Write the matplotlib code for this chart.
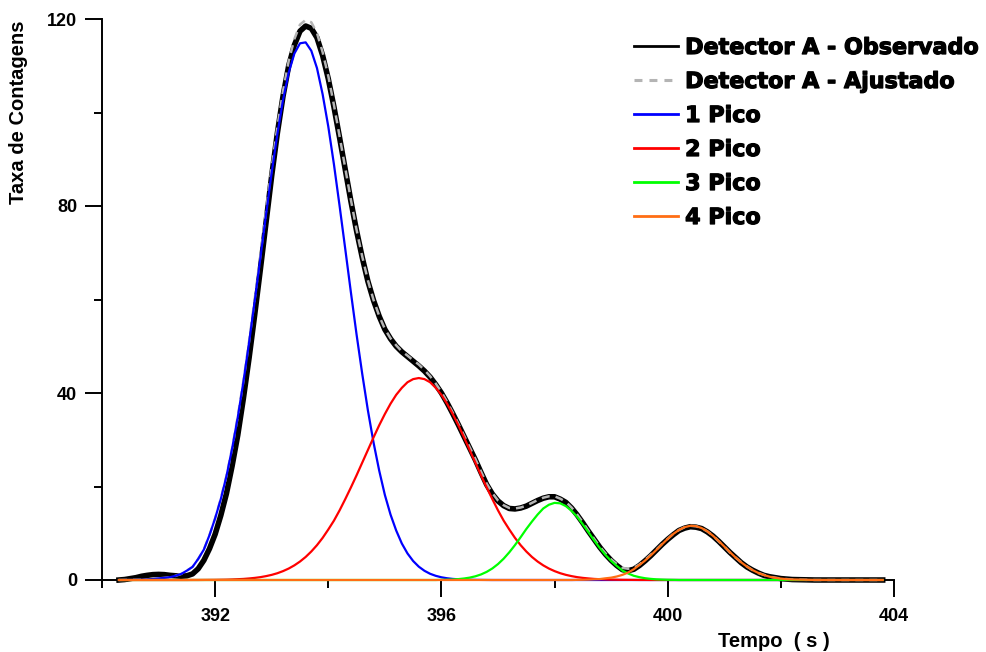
import matplotlib
matplotlib.use("Agg")
import matplotlib.pyplot as plt
from matplotlib.lines import Line2D
import matplotlib.patheffects as pe

# ---- data (time in s, counts) ----
tempo = [390.3, 390.4, 390.5, 390.6, 390.7, 390.8, 390.9, 391.0, 391.1, 391.2,
         391.3, 391.4, 391.5, 391.6, 391.7, 391.8, 391.9, 392.0, 392.1, 392.2,
         392.3, 392.4, 392.5, 392.6, 392.7, 392.8, 392.9, 393.0, 393.1, 393.2,
         393.3, 393.4, 393.5, 393.6, 393.7, 393.8, 393.9, 394.0, 394.1, 394.2,
         394.3, 394.4, 394.5, 394.6, 394.7, 394.8, 394.9, 395.0, 395.1, 395.2,
         395.3, 395.4, 395.5, 395.6, 395.7, 395.8, 395.9, 396.0, 396.1, 396.2,
         396.3, 396.4, 396.5, 396.6, 396.7, 396.8, 396.9, 397.0, 397.1, 397.2,
         397.3, 397.4, 397.5, 397.6, 397.7, 397.8, 397.9, 398.0, 398.1, 398.2,
         398.3, 398.4, 398.5, 398.6, 398.7, 398.8, 398.9, 399.0, 399.1, 399.2,
         399.3, 399.4, 399.5, 399.6, 399.7, 399.8, 399.9, 400.0, 400.1, 400.2,
         400.3, 400.4, 400.5, 400.6, 400.7, 400.8, 400.9, 401.0, 401.1, 401.2,
         401.3, 401.4, 401.5, 401.6, 401.7, 401.8, 401.9, 402.0, 402.1, 402.2,
         402.6, 403.0, 403.8]

observado = [0.0, 0.1, 0.3, 0.5, 0.8, 1.0, 1.15, 1.2, 1.15, 1.0,
             0.9, 0.8, 0.9, 1.3, 2.4, 4.2, 6.7, 9.8, 13.8, 18.5,
             24.4, 31.0, 38.9, 47.5, 56.8, 66.5, 76.5, 86.5, 95.6, 103.5,
             110.0, 114.4, 117.4, 118.5, 118.0, 116.0, 112.2, 107.2, 101.2, 94.6,
             87.8, 81.0, 74.7, 69.0, 63.9, 59.8, 56.4, 53.6, 51.6, 50.0,
             48.8, 47.8, 46.8, 45.8, 44.7, 43.4, 41.8, 40.0, 37.9, 35.6,
             33.2, 30.7, 28.2, 25.7, 23.0, 20.4, 18.4, 16.9, 15.9, 15.3,
             15.2, 15.4, 15.8, 16.4, 17.0, 17.5, 17.8, 17.8, 17.3, 16.6,
             15.4, 13.9, 12.2, 10.4, 8.7, 7.0, 5.5, 4.2, 3.1, 2.2,
             2.0, 2.3, 3.1, 4.1, 5.2, 6.4, 7.6, 8.7, 9.7, 10.6,
             11.1, 11.4, 11.3, 11.0, 10.3, 9.4, 8.3, 7.1, 5.9, 4.8,
             3.7, 2.8, 2.1, 1.5, 1.0, 0.7, 0.5, 0.3, 0.2, 0.1,
             0.0, 0.0, 0.0]

ajustado = [0.0, 0.02, 0.03, 0.05, 0.08, 0.13, 0.21, 0.34, 0.45, 0.6,
            0.9, 1.3, 2.0, 2.8, 4.5, 6.5, 9.6, 13.2, 17.4, 22.3,
            28.2, 35.0, 42.6, 51.1, 60.2, 69.5, 79.0, 88.3, 96.9, 104.6,
            111.0, 115.7, 118.8, 119.8, 119.3, 117.0, 112.9, 107.8, 101.6, 94.9,
            88.1, 81.3, 74.9, 69.2, 64.1, 59.9, 56.5, 53.7, 51.7, 50.2,
            48.9, 48.0, 47.0, 46.1, 44.9, 43.6, 42.0, 40.2, 38.1, 35.8,
            33.4, 30.9, 28.4, 25.9, 23.2, 20.6, 18.6, 17.0, 16.0, 15.4,
            15.3, 15.5, 15.9, 16.5, 17.1, 17.6, 17.9, 17.9, 17.4, 16.7,
            15.5, 14.0, 12.3, 10.5, 8.8, 7.1, 5.7, 4.4, 3.4, 2.6,
            2.4, 2.6, 3.3, 4.3, 5.4, 6.5, 7.7, 8.8, 9.9, 10.7,
            11.3, 11.6, 11.5, 11.1, 10.4, 9.5, 8.3, 7.2, 5.9, 4.8,
            3.8, 2.9, 2.1, 1.5, 1.1, 0.7, 0.5, 0.3, 0.2, 0.1,
            0.0, 0.0, 0.0]

pico_1 = [0.0, 0.02, 0.03, 0.05, 0.08, 0.13, 0.21, 0.34, 0.45, 0.6,
          0.9, 1.3, 2.0, 2.8, 4.5, 6.5, 9.6, 13.2, 17.3, 22.2,
          28.1, 34.8, 42.4, 50.8, 59.7, 68.9, 78.2, 87.2, 95.4, 102.7,
          108.5, 112.6, 114.8, 115.0, 113.2, 109.5, 103.9, 97.0, 88.9, 80.0,
          70.8, 61.5, 52.5, 44.1, 36.3, 29.4, 23.4, 18.2, 14.0, 10.6,
          7.81, 5.68, 4.06, 2.85, 1.97, 1.33, 0.89, 0.58, 0.37, 0.23,
          0.15, 0.09, 0.05, 0.03, 0.02, 0.01, 0.0, 0.0, 0.0, 0.0,
          0.0, 0.0, 0.0, 0.0, 0.0, 0.0, 0.0, 0.0, 0.0, 0.0,
          0.0, 0.0, 0.0, 0.0, 0.0, 0.0, 0.0, 0.0, 0.0, 0.0,
          0.0, 0.0, 0.0, 0.0, 0.0, 0.0, 0.0, 0.0, 0.0, 0.0,
          0.0, 0.0, 0.0, 0.0, 0.0, 0.0, 0.0, 0.0, 0.0, 0.0,
          0.0, 0.0, 0.0, 0.0, 0.0, 0.0, 0.0, 0.0, 0.0, 0.0,
          0.0, 0.0, 0.0]

pico_2 = [0.0, 0.0, 0.0, 0.0, 0.0, 0.0, 0.0, 0.0, 0.0, 0.0,
          0.0, 0.0, 0.0, 0.01, 0.01, 0.02, 0.03, 0.04, 0.06, 0.08,
          0.12, 0.17, 0.23, 0.33, 0.45, 0.61, 0.83, 1.10, 1.45, 1.90,
          2.45, 3.13, 3.95, 4.93, 6.10, 7.45, 9.01, 10.8, 12.7, 14.9,
          17.3, 19.8, 22.4, 25.1, 27.8, 30.5, 33.1, 35.5, 37.7, 39.6,
          41.1, 42.3, 42.97, 43.2, 42.97, 42.3, 41.1, 39.6, 37.7, 35.5,
          33.1, 30.5, 27.8, 25.1, 22.4, 19.8, 17.3, 14.9, 12.7, 10.8,
          9.01, 7.45, 6.10, 4.93, 3.95, 3.13, 2.45, 1.90, 1.45, 1.10,
          0.83, 0.61, 0.45, 0.33, 0.23, 0.17, 0.12, 0.08, 0.06, 0.04,
          0.03, 0.02, 0.01, 0.01, 0.0, 0.0, 0.0, 0.0, 0.0, 0.0,
          0.0, 0.0, 0.0, 0.0, 0.0, 0.0, 0.0, 0.0, 0.0, 0.0,
          0.0, 0.0, 0.0, 0.0, 0.0, 0.0, 0.0, 0.0, 0.0, 0.0,
          0.0, 0.0, 0.0]

pico_3 = [0.0, 0.0, 0.0, 0.0, 0.0, 0.0, 0.0, 0.0, 0.0, 0.0,
          0.0, 0.0, 0.0, 0.0, 0.0, 0.0, 0.0, 0.0, 0.0, 0.0,
          0.0, 0.0, 0.0, 0.0, 0.0, 0.0, 0.0, 0.0, 0.0, 0.0,
          0.0, 0.0, 0.0, 0.0, 0.0, 0.0, 0.0, 0.0, 0.0, 0.0,
          0.0, 0.0, 0.0, 0.0, 0.0, 0.0, 0.0, 0.0, 0.0, 0.0,
          0.0, 0.0, 0.0, 0.0, 0.0, 0.0, 0.0, 0.04, 0.07, 0.11,
          0.19, 0.32, 0.51, 0.79, 1.19, 1.74, 2.47, 3.41, 4.56, 5.93,
          7.47, 9.15, 10.9, 12.5, 14.0, 15.3, 16.1, 16.5, 16.4, 15.8,
          14.8, 13.5, 11.9, 10.2, 8.47, 6.84, 5.36, 4.08, 3.01, 2.0,
          1.4, 0.9, 0.6, 0.38, 0.24, 0.14, 0.09, 0.05, 0.03, 0.0,
          0.0, 0.0, 0.0, 0.0, 0.0, 0.0, 0.0, 0.0, 0.0, 0.0,
          0.0, 0.0, 0.0, 0.0, 0.0, 0.0, 0.0, 0.0, 0.0, 0.0,
          0.0, 0.0, 0.0]

pico_4 = [0.0, 0.0, 0.0, 0.0, 0.0, 0.0, 0.0, 0.0, 0.0, 0.0,
          0.0, 0.0, 0.0, 0.0, 0.0, 0.0, 0.0, 0.0, 0.0, 0.0,
          0.0, 0.0, 0.0, 0.0, 0.0, 0.0, 0.0, 0.0, 0.0, 0.0,
          0.0, 0.0, 0.0, 0.0, 0.0, 0.0, 0.0, 0.0, 0.0, 0.0,
          0.0, 0.0, 0.0, 0.0, 0.0, 0.0, 0.0, 0.0, 0.0, 0.0,
          0.0, 0.0, 0.0, 0.0, 0.0, 0.0, 0.0, 0.0, 0.0, 0.0,
          0.0, 0.0, 0.0, 0.0, 0.0, 0.0, 0.0, 0.0, 0.0, 0.0,
          0.0, 0.0, 0.0, 0.0, 0.0, 0.0, 0.0, 0.0, 0.0, 0.0,
          0.0, 0.03, 0.05, 0.08, 0.14, 0.2, 0.36, 0.5, 0.75, 1.1,
          1.6, 2.3, 3.21, 4.17, 5.25, 6.43, 7.64, 8.81, 9.87, 10.72,
          11.31, 11.6, 11.52, 11.11, 10.41, 9.46, 8.35, 7.16, 5.95, 4.81,
          3.77, 2.87, 2.12, 1.52, 1.06, 0.71, 0.47, 0.30, 0.18, 0.11,
          0.01, 0.0, 0.0]

x_major = [392, 396, 400, 404]
x_minor = [390, 394, 398, 402]
y_major = [0, 40, 80, 120]
y_minor = [20, 60, 100]

labels = ["Detector A - Observado", "Detector A - Ajustado",
          "1 Pico", "2 Pico", "3 Pico", "4 Pico"]
colors = ["black", "#b4b4b4", "#0000ff", "#ff0000", "#00ff00", "#ff6e14"]

plt.rcParams["font.family"] = "Liberation Sans"
plt.rcParams["font.weight"] = "bold"

fig = plt.figure(figsize=(9.86, 6.52), dpi=100)
ax = fig.add_axes([102 / 986, 72 / 652, 792 / 986, 561 / 652])

ax.plot(tempo, observado, color=colors[0], lw=4.0, clip_on=False, zorder=2)
ax.plot(tempo, ajustado, color=colors[1], lw=1.8, linestyle=(0, (3.2, 2.4)),
        clip_on=False, zorder=3)
for i, serie in enumerate([pico_1, pico_2, pico_3, pico_4]):
    ax.plot(tempo, serie, color=colors[i + 2], lw=1.6, clip_on=False, zorder=4 + i)

ax.set_xlim(390, 404)
ax.set_ylim(0, 120)
ax.set_xticks(x_major)
ax.set_xticks(x_minor, minor=True)
ax.set_yticks(y_major)
ax.set_yticks(y_minor, minor=True)

for s in ["top", "right"]:
    ax.spines[s].set_visible(False)
for s in ["left", "bottom"]:
    ax.spines[s].set_linewidth(1.4)

ax.tick_params(which="major", direction="out", length=12, width=1.4, labelsize=13)
ax.tick_params(which="minor", direction="out", length=6, width=1.4)
ax.tick_params(axis="x", which="major", pad=8)
ax.tick_params(axis="y", which="major", pad=6)

ax.set_xlabel("Tempo  ( s )", fontsize=14.5, fontweight="bold", va="center")
ax.xaxis.set_label_coords(0.848, -0.109)
ax.set_ylabel("Taxa de Contagens", fontsize=14.5, fontweight="bold", va="center")
ax.yaxis.set_label_coords(-0.106, 0.834)

handles = [
    Line2D([], [], color=colors[0], lw=2.0),
    Line2D([], [], color=colors[1], lw=2.2, linestyle=(0, (2.6, 2.3))),
    Line2D([], [], color=colors[2], lw=2.0),
    Line2D([], [], color=colors[3], lw=2.0),
    Line2D([], [], color=colors[4], lw=2.0),
    Line2D([], [], color=colors[5], lw=2.0),
]
leg = fig.legend(handles, labels, loc="upper left",
                 bbox_to_anchor=(634 / 986, 1 - 38 / 652),
                 frameon=False, borderpad=0, borderaxespad=0,
                 handlelength=2.0, handletextpad=0.3, labelspacing=0.63,
                 prop={"family": "DejaVu Sans", "weight": "bold", "size": 16})
for t in leg.get_texts():
    t.set_path_effects([pe.withStroke(linewidth=0.9, foreground="black")])

fig.savefig("out.png", dpi=100)
plt.close(fig)
